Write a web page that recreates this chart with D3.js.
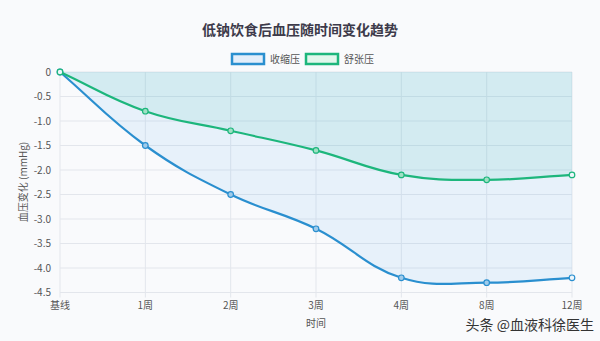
<!DOCTYPE html>
<html><head><meta charset="utf-8">
<script src="https://cdn.jsdelivr.net/npm/d3@7/dist/d3.min.js"></script>
<style>
html,body{margin:0;padding:0;background:#f9fafc;}
svg{display:block;font-family:"Noto Sans CJK SC","Noto Sans",sans-serif;}
</style></head><body>
<svg id="c" width="600" height="341"></svg>
<script>
const categories = ["基线","1周","2周","3周","4周","8周","12周"];
const systolic = [0,-1.5,-2.5,-3.2,-4.2,-4.3,-4.2];
const diastolic = [0,-0.8,-1.2,-1.6,-2.1,-2.2,-2.1];
const yTicks = [0,-0.5,-1.0,-1.5,-2.0,-2.5,-3.0,-3.5,-4.0,-4.5];
const seriesNames = ["收缩压","舒张压"];

const svg = d3.select("#c");
const W=600,H=341;
svg.append("rect").attr("width",W).attr("height",H).attr("fill","#f9fafc");
const L=60,R=572,T=72,B=292.5;
const x = d3.scalePoint().domain(categories).range([L,R]);
const y = d3.scaleLinear().domain([-4.5,0]).range([B,T]);

// Chart.js-like spline curve
function ChartJsCurve(context){this._context=context;}
ChartJsCurve.prototype={
  areaStart(){this._line=0;},areaEnd(){this._line=NaN;},
  lineStart(){this._pts=[];},
  point(px,py){this._pts.push([+px,+py]);},
  lineEnd(){
    const p=this._pts,n=p.length,t=0.4,ctx=this._context;
    if(!n)return;
    const cps=p.map((c,i)=>{
      const prev=p[Math.max(0,i-1)],next=p[Math.min(n-1,i+1)];
      const d01=Math.hypot(c[0]-prev[0],c[1]-prev[1]);
      const d12=Math.hypot(next[0]-c[0],next[1]-c[1]);
      let s01=d01/(d01+d12),s12=d12/(d01+d12);
      if(!isFinite(s01))s01=0; if(!isFinite(s12))s12=0;
      const fa=t*s01,fb=t*s12;
      return {p:[c[0]-fa*(next[0]-prev[0]),c[1]-fa*(next[1]-prev[1])],
              n:[c[0]+fb*(next[0]-prev[0]),c[1]+fb*(next[1]-prev[1])]};
    });
    if(this._line) ctx.lineTo(p[0][0],p[0][1]); else ctx.moveTo(p[0][0],p[0][1]);
    for(let i=1;i<n;i++){
      ctx.bezierCurveTo(cps[i-1].n[0],cps[i-1].n[1],cps[i].p[0],cps[i].p[1],p[i][0],p[i][1]);
    }
    if(this._line) ctx.closePath();
    this._line=1-this._line;
  }
};
const curve = ctx=>new ChartJsCurve(ctx);

// grid
const g=svg.append("g");
g.selectAll(".hy").data(yTicks).join("line")
 .attr("x1",L).attr("x2",R).attr("y1",d=>y(d)).attr("y2",d=>y(d))
 .attr("stroke","#e3e6ec").attr("stroke-width",1);
g.selectAll(".vx").data(categories).join("line")
 .attr("x1",d=>x(d)).attr("x2",d=>x(d)).attr("y1",T).attr("y2",B+5)
 .attr("stroke","#e3e6ec").attr("stroke-width",1);

const series=[
 {name:seriesNames[0],data:systolic,stroke:"#2a8fcf",fill:"rgba(54,150,235,0.09)",pt:"#9fcbea"},
 {name:seriesNames[1],data:diastolic,stroke:"#1db67c",fill:"rgba(40,190,170,0.10)",pt:"#9fe0c4"}
];
const area=d3.area().x((d,i)=>x(categories[i])).y0(y(0)).y1(d=>y(d)).curve(curve);
const line=d3.line().x((d,i)=>x(categories[i])).y(d=>y(d)).curve(curve);
series.forEach(s=>{
  svg.append("path").attr("d",area(s.data)).attr("fill",s.fill);
});
series.forEach(s=>{
  svg.append("path").attr("d",line(s.data)).attr("fill","none").attr("stroke",s.stroke).attr("stroke-width",2.2);
  svg.append("g").selectAll("circle").data(s.data).join("circle")
   .attr("cx",(d,i)=>x(categories[i])).attr("cy",d=>y(d)).attr("r",2.8)
   .attr("fill",(d,i)=>(i===0||i===s.data.length-1)?"#eef6fb":s.pt).attr("stroke",s.stroke).attr("stroke-width",1.2);
});

// axes labels
svg.append("g").selectAll("text").data(yTicks).join("text")
 .attr("x",L-9).attr("y",d=>y(d)).attr("dy","0.35em").attr("text-anchor","end")
 .attr("font-size",10).attr("fill","#555").text(d=>d===0?"0":d.toFixed(1));
svg.append("g").selectAll("text").data(categories).join("text")
 .attr("x",d=>x(d)).attr("y",B+13).attr("dy","0.35em").attr("text-anchor","middle")
 .attr("font-size",10).attr("fill","#555").text(d=>d);
svg.append("text").attr("x",316).attr("y",323).attr("dy","0.35em").attr("text-anchor","middle")
 .attr("font-size",10).attr("fill","#555").text("时间");
svg.append("text").attr("transform","translate(23,182) rotate(-90)").attr("dy","0.35em").attr("text-anchor","middle")
 .attr("font-size",10).attr("fill","#555").text("血压变化 (mmHg)");

// title
svg.append("text").attr("x",300).attr("y",30).attr("dy","0.35em").attr("text-anchor","middle")
 .attr("font-size",14).attr("font-weight","bold").attr("fill","#3d3a4a").text("低钠饮食后血压随时间变化趋势");

// legend
const leg=[{x:231,fill:"#e3eefa",stroke:"#2a8fcf"},{x:305,fill:"#e1f7ec",stroke:"#1db67c"}];
leg.forEach((l,i)=>{
  svg.append("rect").attr("x",l.x+1).attr("y",54).attr("width",32).attr("height",10)
   .attr("fill",l.fill).attr("stroke",l.stroke).attr("stroke-width",2.5);
  svg.append("text").attr("x",l.x+39).attr("y",59).attr("dy","0.35em")
   .attr("font-size",10).attr("fill","#555").text(seriesNames[i]);
});

// watermark
svg.append("text").attr("x",594).attr("y",325).attr("dy","0.35em").attr("text-anchor","end")
 .attr("font-size",14).attr("fill","#333").text("头条 @血液科徐医生");
</script></body></html>
